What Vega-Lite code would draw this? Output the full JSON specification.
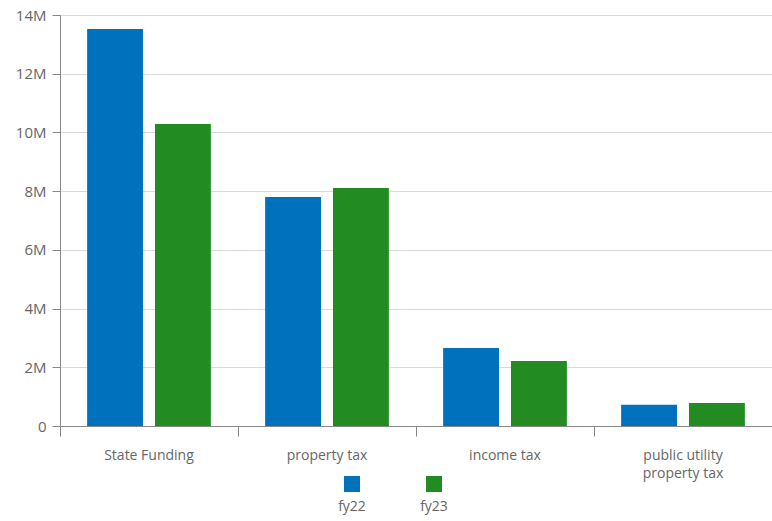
{
  "$schema": "https://vega.github.io/schema/vega-lite/v6.json",
  "autosize": {"type": "none"},
  "padding": {"left": 60, "top": 15, "right": 0, "bottom": 95},
  "width": 712,
  "height": 411,
  "background": "white",
  "config": {
    "font": "Open Sans",
    "view": {"stroke": null}
  },
  "data": {
    "values": [
      {"category": "State Funding", "year": "fy22", "value": 13520000},
      {"category": "State Funding", "year": "fy23", "value": 10290000},
      {"category": "property tax", "year": "fy22", "value": 7800000},
      {"category": "property tax", "year": "fy23", "value": 8110000},
      {"category": "income tax", "year": "fy22", "value": 2660000},
      {"category": "income tax", "year": "fy23", "value": 2210000},
      {"category": "public utility property tax", "year": "fy22", "value": 720000},
      {"category": "public utility property tax", "year": "fy23", "value": 780000}
    ]
  },
  "mark": {"type": "bar"},
  "encoding": {
    "x": {
      "field": "category",
      "type": "nominal",
      "sort": null,
      "scale": {"paddingInner": 0, "paddingOuter": 0},
      "axis": {
        "title": null,
        "labelAngle": 0,
        "bandPosition": 0,
        "labelFontSize": 14,
        "labelColor": "#666666",
        "labelPadding": 19,
        "labelBaseline": "middle",
        "labelLineHeight": 18,
        "labelExpr": "datum.label == 'public utility property tax' ? ['public utility', 'property tax'] : datum.label",
        "domainColor": "#888888",
        "tickColor": "#888888",
        "tickSize": 10,
        "grid": false
      }
    },
    "xOffset": {
      "field": "year",
      "type": "nominal",
      "scale": {"paddingInner": 0.176, "paddingOuter": 0.4}
    },
    "y": {
      "field": "value",
      "type": "quantitative",
      "scale": {"domain": [0, 14000000], "nice": false},
      "axis": {
        "title": null,
        "values": [0, 2000000, 4000000, 6000000, 8000000, 10000000, 12000000, 14000000],
        "labelExpr": "datum.value == 0 ? '0' : (datum.value / 1000000) + 'M'",
        "labelFontSize": 15,
        "labelColor": "#666666",
        "labelPadding": 6,
        "tickSize": 8,
        "tickColor": "#888888",
        "domainColor": "#888888",
        "gridColor": "#d9d9d9"
      }
    },
    "color": {
      "field": "year",
      "type": "nominal",
      "scale": {"domain": ["fy22", "fy23"], "range": ["#0072bd", "#228b22"]},
      "legend": {
        "title": null,
        "orient": "none",
        "legendX": 284,
        "legendY": 461,
        "direction": "horizontal",
        "symbolType": "square",
        "symbolSize": 256,
        "symbolStrokeWidth": 0,
        "labelFontSize": 14,
        "labelColor": "#666666",
        "labelAlign": "center",
        "labelBaseline": "top",
        "labelLineHeight": 25,
        "labelOffset": -8,
        "labelExpr": "['', datum.label]",
        "columnPadding": 54
      }
    }
  }
}
